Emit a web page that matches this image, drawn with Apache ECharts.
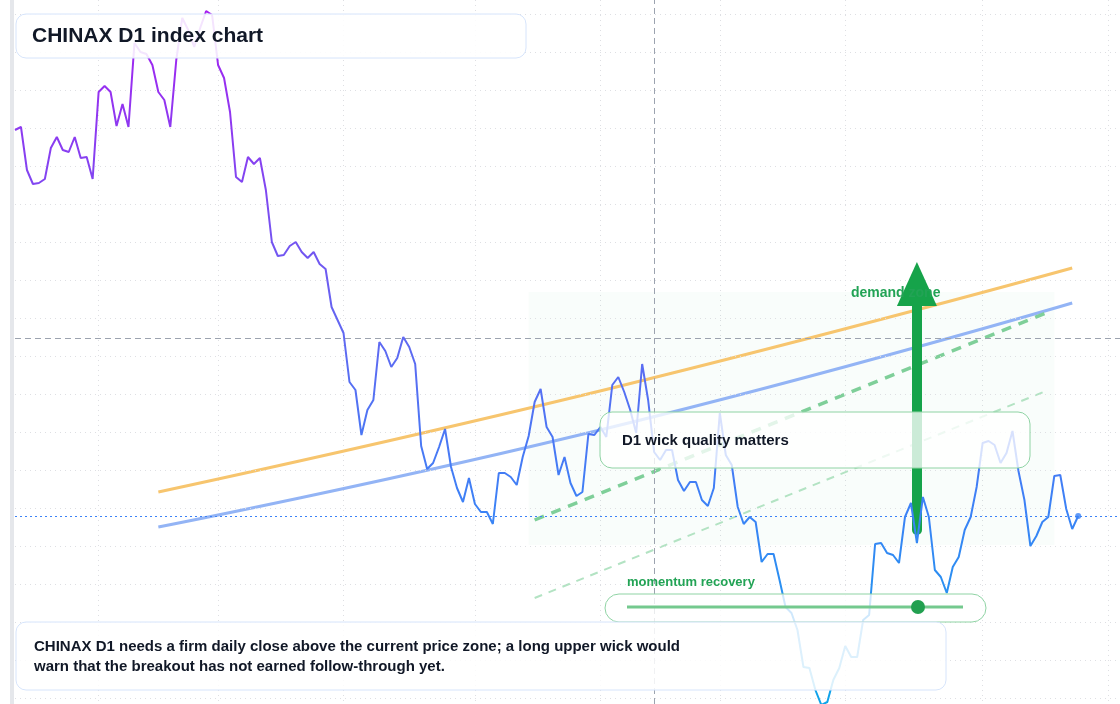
<!DOCTYPE html>
<html>
<head>
<meta charset="utf-8">
<script src="https://cdn.jsdelivr.net/npm/echarts@6/dist/echarts.min.js"></script>
<style>html,body{margin:0;padding:0;background:#fff}#main{width:1120px;height:704px}</style>
</head>
<body>
<div id="main"></div>
<script>
// CHINAX D1 index chart
var closes = [948, 951, 908, 894, 895, 899, 930, 941, 928, 926, 941, 920, 921, 899, 986, 992, 986, 952, 974, 951,
  1035, 1026, 1024, 1013, 986, 978, 951, 1018, 1060, 1048, 1031, 1050, 1067, 1063, 1013, 1000, 966, 901, 896, 921,
  914, 920, 888, 836, 822, 823, 832, 836, 826, 820, 826, 814, 809, 771, 758, 745, 696, 688, 643, 668,
  678, 736, 727, 711, 720, 741, 731, 714, 632, 609, 615, 631, 649, 611, 590, 576, 600, 574, 566, 566,
  554, 605, 605, 601, 593, 621, 642, 676, 689, 651, 641, 603, 621, 595, 582, 586, 644, 643, 651, 641,
  693, 701, 686, 668, 645, 714, 678, 626, 618, 628, 628, 598, 587, 596, 596, 578, 572, 590, 665, 623,
  613, 571, 554, 561, 556, 516, 524, 524, 498, 471, 465, 448, 411, 410, 388, 373, 376, 398, 410, 432,
  421, 421, 458, 463, 534, 535, 525, 523, 515, 561, 575, 535, 581, 561, 508, 501, 485, 511, 521, 548,
  561, 591, 635, 637, 633, 615, 625, 647, 607, 578, 532, 542, 556, 561, 602, 603, 569, 549, 562];
var dayCount = 186;
var days = [];
for (var i = 0; i < dayCount; i++) days.push('D' + (i + 1));
var monthStarts = [14, 34, 55, 77, 98, 118, 139, 162, 183];
var gridLevels = [380, 418, 456, 494, 532, 570, 608, 646, 684, 722, 760, 798, 836, 874, 912, 950, 988, 1026, 1064];

// trend channel: [day index, level]
var upperBand = [[24, 586], [100, 690], [177, 810]];
var lowerBand = [[24, 551], [100, 651], [177, 775]];
var supportMain = [[87, 558], [173, 766]];
var supportSoft = [[87, 480], [173, 688]];
var demandZone = { from: 86, to: 174, low: 533, high: 786 };
var arrowDay = 151, arrowFrom = 548, arrowTo = 816;
var pivotDay = 107, pivotLevel = 740;
var lastIdx = closes.length - 1, lastClose = closes[lastIdx];

var dom = document.getElementById('main');
var myChart = echarts.init(dom);
var font = 'Liberation Sans, Arial, sans-serif';

function box(x, y, w, h, r, stroke, op) {
    return { type: 'rect', z: 100, shape: { x: x, y: y, width: w, height: h, r: r },
        style: { fill: 'rgba(255,255,255,' + op + ')', stroke: stroke, lineWidth: 1 } };
}
function txt(x, y, s, size, color) {
    return { type: 'text', z: 101, x: x, y: y,
        style: { text: s, font: 'bold ' + size + 'px ' + font, fill: color, textVerticalAlign: 'middle' } };
}

var gridMarks = gridLevels.map(function (v) { return { yAxis: v }; });

var option = {
    animation: false,
    grid: { left: 15, right: 0, top: 0, bottom: 0 },
    xAxis: {
        type: 'category', data: days, boundaryGap: false,
        axisLine: { show: false }, axisTick: { show: false }, axisLabel: { show: false },
        splitLine: { show: true, interval: function (idx) { return monthStarts.indexOf(idx) >= 0; },
            lineStyle: { color: '#dedfe3', type: [1, 4] } }
    },
    yAxis: {
        type: 'value', min: 374, max: 1078,
        axisLine: { show: false }, axisTick: { show: false }, axisLabel: { show: false },
        splitLine: { show: false }
    },
    series: [
        {
            name: 'grid', type: 'line', data: [], z: 1,
            markLine: { silent: true, symbol: 'none', label: { show: false },
                lineStyle: { color: '#dedfe3', type: [1, 4], width: 1 }, data: gridMarks }
        },
        {
            name: 'upper', type: 'line', data: upperBand, smooth: true, showSymbol: false, z: 3,
            lineStyle: { color: '#f7c56e', width: 3 }
        },
        {
            name: 'lower', type: 'line', data: lowerBand, smooth: true, showSymbol: false, z: 3,
            lineStyle: { color: '#93b4f5', width: 3 }
        },
        {
            name: 'support', type: 'line', data: supportMain, showSymbol: false, z: 3,
            lineStyle: { color: '#7fcf99', width: 3.5, type: [10, 8] }
        },
        {
            name: 'support2', type: 'line', data: supportSoft, showSymbol: false, z: 3,
            lineStyle: { color: '#b3e3c3', width: 2, type: [8, 7] }
        },
        {
            name: 'CHINAX', type: 'line', data: closes, showSymbol: false, z: 5,
            lineStyle: {
                width: 2,
                color: new echarts.graphic.LinearGradient(0, 0, 0, 1, [
                    { offset: 0, color: '#a71ef0' },
                    { offset: 0.45, color: '#6366f1' },
                    { offset: 0.72, color: '#3b82f6' },
                    { offset: 1, color: '#0ea5e9' }
                ])
            },
            markArea: {
                silent: true,
                itemStyle: { color: 'rgba(34,197,94,0.028)', borderRadius: 14 },
                data: [[{ xAxis: demandZone.from, yAxis: demandZone.high }, { xAxis: demandZone.to, yAxis: demandZone.low }]]
            },
            markLine: {
                silent: true, symbol: 'none', label: { show: false },
                data: [
                    { yAxis: pivotLevel, lineStyle: { color: '#9ca3af', type: [6, 4], width: 1 } },
                    { xAxis: pivotDay, lineStyle: { color: '#9ca3af', type: [6, 4], width: 1 } },
                    { yAxis: lastClose, lineStyle: { color: '#3b82f6', type: [2, 3], width: 1 } }
                ]
            }
        },
        {
            name: 'last', type: 'scatter', data: [[lastIdx, lastClose]], symbolSize: 6, z: 6,
            itemStyle: { color: '#3b82f6' }
        },
        {
            name: 'arrow', type: 'line', data: [], z: 8,
            markLine: {
                silent: true, symbol: ['none', 'triangle'], symbolSize: [40, 44], label: { show: false },
                lineStyle: { color: '#16a34a', width: 10, type: 'solid', cap: 'round' },
                data: [[{ xAxis: arrowDay, yAxis: arrowFrom }, { xAxis: arrowDay, yAxis: arrowTo - 22 }]]
            }
        }
    ],
    graphic: [
        { type: 'rect', z: 100, shape: { x: 10, y: 0, width: 4, height: 704 }, style: { fill: '#e5e7eb' } },
        { type: 'text', z: 7, x: 851, y: 293, style: { text: 'demand zone', font: 'bold 14px ' + font, fill: '#22a355', textVerticalAlign: 'middle' } },
        box(16, 14, 510, 44, 10, '#d6e4fb', 0.88),
        txt(32, 36, 'CHINAX D1 index chart', 21, '#111827'),
        box(600, 412, 430, 56, 12, '#8fd3a4', 0.78),
        txt(622, 441, 'D1 wick quality matters', 15, '#111827'),
        txt(627, 582, 'momentum recovery', 13, '#22a355'),
        box(605, 594, 381, 28, 14, '#8fd3a4', 0.78),
        { type: 'line', z: 102, shape: { x1: 627, y1: 607, x2: 963, y2: 607 }, style: { stroke: '#74c98e', lineWidth: 3 } },
        { type: 'circle', z: 103, shape: { cx: 918, cy: 607, r: 7 }, style: { fill: '#22a050' } },
        box(16, 622, 930, 68, 10, '#d6e4fb', 0.85),
        txt(34, 647, 'CHINAX D1 needs a firm daily close above the current price zone; a long upper wick would', 15, '#111827'),
        txt(34, 667, 'warn that the breakout has not earned follow-through yet.', 15, '#111827')
    ]
};

if (option && typeof option === 'object') {
    myChart.setOption(option);
}
</script>
</body>
</html>
